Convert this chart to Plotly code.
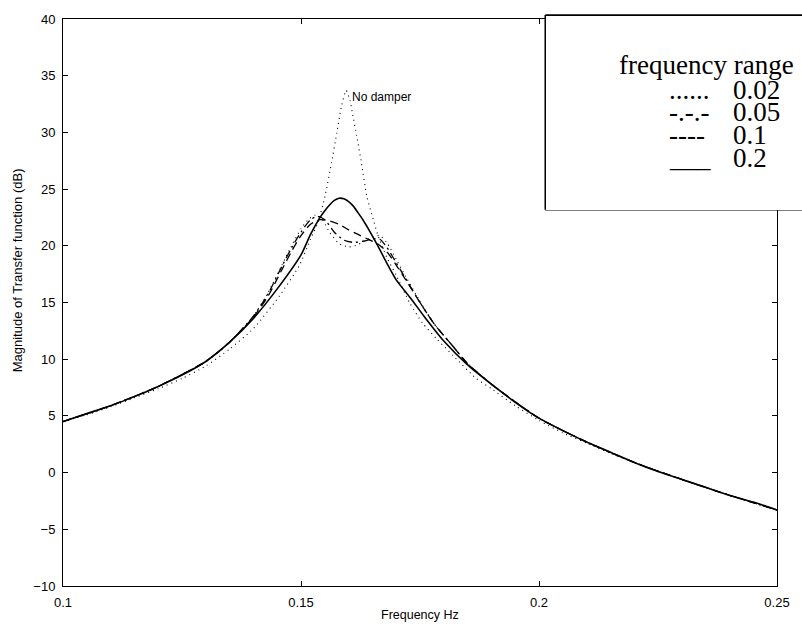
import plotly.graph_objects as go

# ---------------- data ----------------
# No damper (dotted, tall peak)
nd_f = [0.100, 0.105, 0.110, 0.115, 0.120, 0.125, 0.130, 0.135, 0.140,
        0.1455, 0.1497, 0.152, 0.1535, 0.155, 0.1564, 0.1575, 0.1585, 0.1595, 0.1603,
        0.1608, 0.1617, 0.1627, 0.1638, 0.1652, 0.1661, 0.168, 0.170, 0.1728, 0.1755,
        0.1785, 0.182, 0.1868, 0.190, 0.195, 0.200, 0.205, 0.210, 0.215, 0.220,
        0.225, 0.230, 0.235, 0.240, 0.245, 0.250]
nd_v = [4.5, 5.1, 5.8, 6.6, 7.4, 8.3, 9.4, 10.9, 12.7,
        15.6, 18.3, 20.6, 22.0, 24.3, 27.3, 29.9, 32.3, 33.7, 32.8,
        31.7, 29.7, 27.3, 24.4, 22.3, 21.0, 19.0, 17.4, 15.0, 13.2,
        11.8, 10.3, 8.3, 7.4, 5.9, 4.6, 3.5, 2.6, 1.7, 0.9,
        0.1, -0.6, -1.3, -2.0, -2.6, -3.3]

# frequency range 0.02 (dotted)
r002_f = [0.100, 0.110, 0.120, 0.130, 0.135, 0.140, 0.143, 0.146, 0.148, 0.150,
          0.1515, 0.153, 0.1545, 0.156, 0.158, 0.160, 0.162, 0.164, 0.1665, 0.168,
          0.170, 0.172, 0.175, 0.178, 0.182, 0.185, 0.190, 0.200, 0.210, 0.220,
          0.230, 0.240, 0.250]
r002_v = [4.5, 5.9, 7.6, 9.8, 11.5, 13.8, 15.8, 18.3, 20.0, 21.5,
          22.3, 22.7, 22.3, 21.2, 20.2, 19.9, 20.1, 20.6, 20.9, 20.3,
          18.8, 17.3, 15.1, 13.1, 11.1, 9.6, 7.8, 4.8, 2.7, 0.9,
          -0.6, -2.0, -3.3]

# frequency range 0.05 (dash-dot)
r005_f = [0.100, 0.110, 0.120, 0.130, 0.135, 0.140, 0.143, 0.146, 0.148, 0.150,
          0.152, 0.1535, 0.155, 0.157, 0.159, 0.161, 0.163, 0.165, 0.1665, 0.168,
          0.170, 0.172, 0.175, 0.178, 0.182, 0.185, 0.190, 0.200, 0.210, 0.220,
          0.230, 0.240, 0.250]
r005_v = [4.5, 5.9, 7.6, 9.8, 11.5, 13.8, 15.7, 18.2, 19.8, 21.2,
          22.3, 22.6, 22.3, 21.2, 20.5, 20.3, 20.4, 20.6, 20.6, 19.9,
          18.5, 17.1, 15.0, 13.1, 11.1, 9.6, 7.8, 4.8, 2.7, 0.9,
          -0.6, -2.0, -3.3]

# frequency range 0.1 (dashed)
r01_f = [0.100, 0.110, 0.120, 0.130, 0.135, 0.140, 0.143, 0.146, 0.148, 0.150,
         0.152, 0.154, 0.156, 0.158, 0.160, 0.162, 0.164, 0.166, 0.168, 0.170,
         0.172, 0.175, 0.178, 0.182, 0.185, 0.190, 0.200, 0.210, 0.220, 0.230,
         0.240, 0.250]
r01_v = [4.5, 5.9, 7.6, 9.8, 11.5, 13.7, 15.5, 17.9, 19.5, 20.9,
         21.9, 22.3, 22.2, 21.9, 21.4, 21.0, 20.6, 20.2, 19.5, 18.3,
         17.0, 15.0, 13.1, 11.1, 9.6, 7.8, 4.8, 2.7, 0.9, -0.6,
         -2.0, -3.3]

# frequency range 0.2 (solid)
r02_f = [0.100, 0.105, 0.110, 0.115, 0.120, 0.125, 0.130, 0.135, 0.140, 0.145,
         0.150, 0.152, 0.154, 0.155, 0.156, 0.157, 0.158, 0.159, 0.160, 0.161,
         0.162, 0.163, 0.164, 0.166, 0.168, 0.170, 0.173, 0.176, 0.180, 0.185,
         0.190, 0.195, 0.200, 0.205, 0.210, 0.215, 0.220, 0.225, 0.230, 0.235,
         0.240, 0.245, 0.250]
r02_v = [4.5, 5.2, 5.9, 6.7, 7.6, 8.6, 9.8, 11.5, 13.6, 16.2,
         19.2, 21.0, 22.5, 23.1, 23.6, 24.0, 24.2, 24.15, 23.9, 23.5,
         22.9, 22.3, 21.6, 20.1, 18.5, 17.0, 15.4, 13.7, 11.6, 9.5,
         7.8, 6.2, 4.8, 3.7, 2.7, 1.8, 0.9, 0.1, -0.6, -1.3,
         -2.0, -2.6, -3.3]

x_ticks = [0.1, 0.15, 0.2, 0.25]
x_tick_text = ["0.1", "0.15", "0.2", "0.25"]
y_ticks = [-10, -5, 0, 5, 10, 15, 20, 25, 30, 35, 40]

legend_title = "frequency range"
legend_symbols = ["......", "-.-.-", "----", "___"]
legend_labels = ["0.02", "0.05", "0.1", "0.2"]

# ---------------- layout helpers ----------------
W, H = 802, 629
L, R, T, B = 63, 778, 15, 586


def px(x):
    return (x - L) / (R - L)


def py(y):
    return (B - y) / (B - T)


fig = go.Figure()

series = [
    (nd_f, nd_v, dict(color="black", width=1.1, dash="1px,4px")),
    (r002_f, r002_v, dict(color="black", width=1.1, dash="1px,4px")),
    (r005_f, r005_v, dict(color="black", width=1.3, dash="8px,4px,2px,4px")),
    (r01_f, r01_v, dict(color="black", width=1.3, dash="8px,5px")),
    (r02_f, r02_v, dict(color="black", width=1.6, dash="solid")),
]
for f, v, ln in series:
    fig.add_trace(go.Scatter(x=f, y=v, mode="lines",
                             line=dict(shape="spline", smoothing=0.6, **ln),
                             showlegend=False, hoverinfo="skip"))

axis_font = dict(family="Liberation Sans, Arial, sans-serif", size=13, color="black")
fig.update_xaxes(range=[0.1, 0.25], tickvals=x_ticks, ticktext=x_tick_text,
                 ticks="inside", ticklen=5, tickwidth=1, tickcolor="black",
                 showline=True, linecolor="black", linewidth=1, mirror="ticks",
                 showgrid=False, zeroline=False, tickfont=axis_font,
                 ticklabelstandoff=4)
fig.update_yaxes(range=[-10, 40], tickvals=y_ticks,
                 ticks="inside", ticklen=5, tickwidth=1, tickcolor="black",
                 showline=True, linecolor="black", linewidth=1, mirror="ticks",
                 showgrid=False, zeroline=False, tickfont=axis_font,
                 ticklabelstandoff=4)

# legend box: left, top and bottom border lines (the right side runs off the picture)
box_l, box_t, box_b = 546, 11, 207
for x0, y0, x1, y1 in [(box_l, box_t, 900, box_t), (box_l, box_b, 900, box_b),
                       (box_l, box_t, box_l, box_b)]:
    fig.add_shape(type="line", xref="paper", yref="paper",
                  x0=px(x0), y0=py(y0), x1=px(x1), y1=py(y1),
                  line=dict(color="black", width=1.7), layer="above")

serif = dict(family="Liberation Serif, Times New Roman, serif", size=27, color="black")
ann = []
# white fill of the legend box, as an annotation so that it covers the axis frame
ann.append(dict(text=" ", x=px(box_l + 1), y=py(box_t + 1), xanchor="left", yanchor="top",
                width=360, height=box_b - box_t - 2, bgcolor="white",
                borderwidth=0, borderpad=0))
ann.append(dict(text=legend_title, x=px(618), y=py(61), xanchor="left", yanchor="middle",
                font=serif))
row_y = [86, 109, 132, 155]
for sym, lab, yy in zip(legend_symbols, legend_labels, row_y):
    ann.append(dict(text=sym, x=px(668), y=py(yy), xanchor="left", yanchor="middle", font=serif))
    ann.append(dict(text=lab, x=px(732), y=py(yy), xanchor="left", yanchor="middle", font=serif))

ann.append(dict(text="No damper", x=px(350), y=py(94), xanchor="left", yanchor="middle",
                font=dict(family="Liberation Sans, Arial, sans-serif", size=12, color="black")))
ann.append(dict(text="Frequency Hz", x=0.5, y=py(615), xanchor="center", yanchor="middle",
                borderpad=0,
                font=dict(family="Liberation Sans, Arial, sans-serif", size=12.5, color="black")))
ann.append(dict(text="Magnitude of Transfer function (dB)", x=px(17), y=py(268),
                xanchor="center", yanchor="middle", textangle=-90, borderpad=0,
                font=dict(family="Liberation Sans, Arial, sans-serif", size=13, color="black")))
for a in ann:
    a.update(xref="paper", yref="paper", showarrow=False)
fig.update_layout(annotations=ann)

fig.update_layout(width=W, height=H, autosize=False,
                  margin=dict(l=L, r=W - R, t=T, b=H - B, pad=0),
                  paper_bgcolor="white", plot_bgcolor="white")

# place the figure at the very top-left corner of the page (no default body margin)
fig.write_html("out.html",
               config={"displayModeBar": False},
               post_script="document.body.style.margin='0';"
                           "document.body.style.overflow='hidden';")
